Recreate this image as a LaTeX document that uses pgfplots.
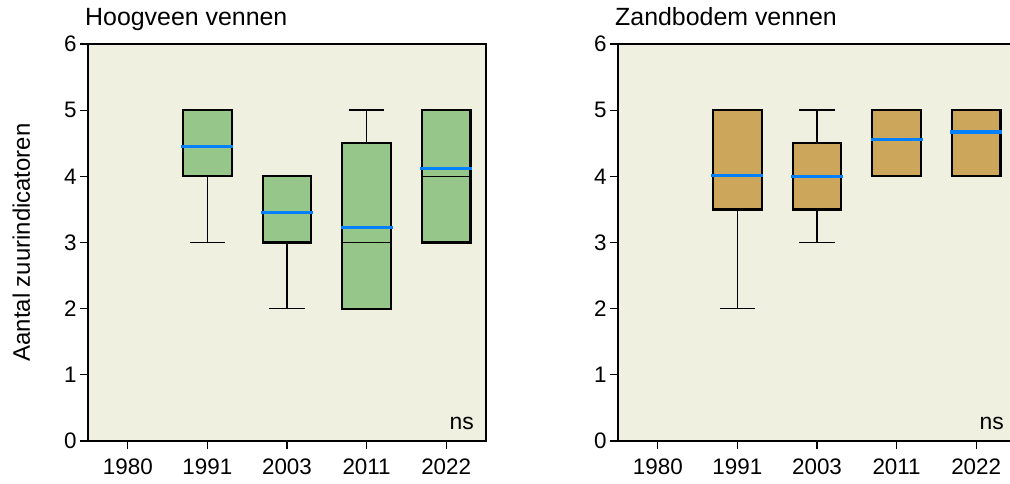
\documentclass[border=0pt]{standalone}
\usepackage{fontspec}
\setmainfont{Liberation Sans}
\usepackage{pgfplots}
\pgfplotsset{compat=1.18}
\usepgfplotslibrary{statistics}

\definecolor{bg}{RGB}{240,240,225}
\definecolor{boxgreen}{RGB}{151,198,138}
\definecolor{boxbrown}{RGB}{204,167,91}
\definecolor{meanblue}{RGB}{0,128,255}

\pgfplotsset{
  venn/.style={
    scale only axis, width=398bp, height=397bp,
    xmin=-0.5, xmax=4.5, ymin=0, ymax=6,
    xtick={0,1,2,3,4}, xticklabels={1980,1991,2003,2011,2022},
    ytick={0,1,2,3,4,5,6},
    tick align=outside, xtick pos=bottom, ytick pos=left,
    major tick length=8bp,
    every tick/.style={black, line width=1.3bp},
    axis line style={line width=1.6bp},
    axis background/.style={fill=bg},
    tick label style={font=\fontsize{22.5}{26}\selectfont},
    /pgf/number format/assume math mode=true,
    xticklabel shift=6bp,
    title style={at={(0,1)}, anchor=base west, xshift=-3bp, yshift=13bp,
                 inner sep=0pt, font=\fontsize{25}{30}\selectfont},
    boxplot/draw direction=y,
    boxplot/box extend=0.61, boxplot/whisker extend=0.44,
    boxplot/every box/.style={draw=black, line width=2.3bp},
    boxplot/every whisker/.style={line width=1.5bp},
    boxplot/every median/.style={line width=1.5bp},
  },
  mean/.style={only marks, mark=-, mark size=26bp,
    mark options={draw=meanblue, line width=3.5bp}},
}

\begin{document}
\begin{tikzpicture}
% Hoogveen vennen
\begin{axis}[venn, at={(88bp,43bp)}, anchor=south west,
  title={Hoogveen vennen},
  ylabel={Aantal zuurindicatoren},
  ylabel style={at={(axis description cs:0,0.5)}, anchor=base, yshift=58bp,
                font=\fontsize{24}{28}\selectfont},
  boxplot/every box/.append style={fill=boxgreen}]
\addplot[black, boxplot prepared={draw position=1, lower whisker=3, lower quartile=4,
  median=4, upper quartile=5, upper whisker=5}] coordinates {};
\addplot[black, boxplot prepared={draw position=2, lower whisker=2, lower quartile=3,
  median=3, upper quartile=4, upper whisker=4}] coordinates {};
\addplot[black, boxplot prepared={draw position=3, lower whisker=2, lower quartile=2,
  median=3, upper quartile=4.5, upper whisker=5}] coordinates {};
\addplot[black, boxplot prepared={draw position=4, lower whisker=3, lower quartile=3,
  median=4, upper quartile=5, upper whisker=5}] coordinates {};
\addplot[mean] coordinates {(1,4.45) (2,3.45) (3,3.23) (4,4.12)};
\node[anchor=base east, inner sep=0pt, xshift=-12bp, yshift=12bp,
      font=\fontsize{23}{27}\selectfont] at (rel axis cs:1,0) {ns};
\end{axis}
% Zandbodem vennen
\begin{axis}[venn, at={(618bp,43bp)}, anchor=south west,
  title={Zandbodem vennen},
  boxplot/every box/.append style={fill=boxbrown}]
\addplot[black, boxplot prepared={draw position=1, lower whisker=2, lower quartile=3.5,
  median=4, upper quartile=5, upper whisker=5}] coordinates {};
\addplot[black, boxplot prepared={draw position=2, lower whisker=3, lower quartile=3.5,
  median=4, upper quartile=4.5, upper whisker=5}] coordinates {};
\addplot[black, boxplot prepared={draw position=3, lower whisker=4, lower quartile=4,
  median=5, upper quartile=5, upper whisker=5}] coordinates {};
\addplot[black, boxplot prepared={draw position=4, lower whisker=4, lower quartile=4,
  median=5, upper quartile=5, upper whisker=5}] coordinates {};
\addplot[mean] coordinates {(1,4.01) (2,4.0) (3,4.56) (4,4.67)};
\node[anchor=base east, inner sep=0pt, xshift=-12bp, yshift=12bp,
      font=\fontsize{23}{27}\selectfont] at (rel axis cs:1,0) {ns};
\end{axis}
\pgfresetboundingbox
\useasboundingbox (0,0) rectangle (1010bp,484bp);
\end{tikzpicture}
\end{document}
